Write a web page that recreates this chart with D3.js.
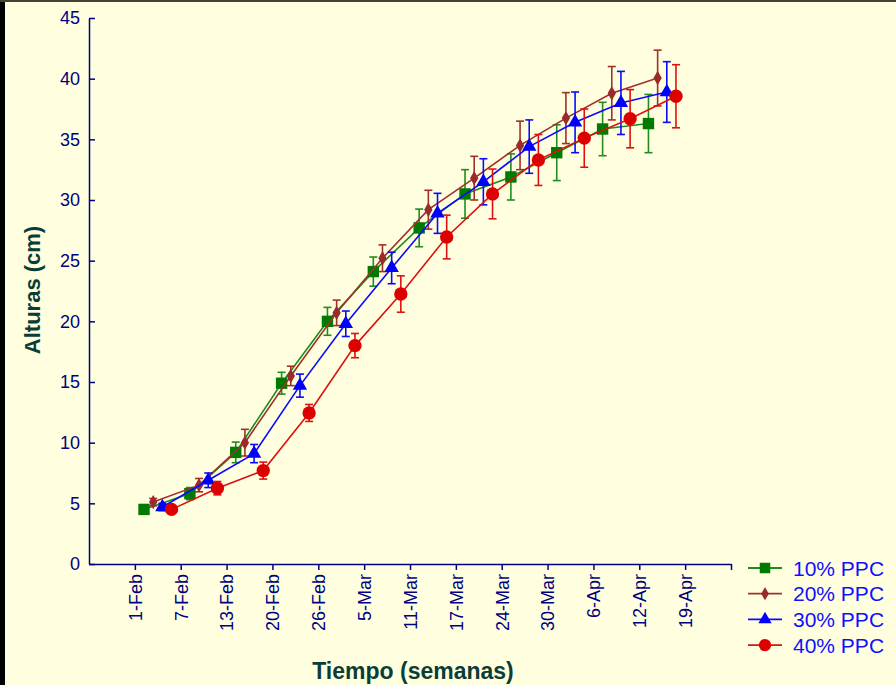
<!DOCTYPE html>
<html>
<head>
<meta charset="utf-8">
<script src="https://cdn.jsdelivr.net/npm/d3@7"></script>
<style>
  html, body { margin: 0; padding: 0; background: #FFFFE0; }
  svg { display: block; }
</style>
</head>
<body>
<script>
// Fechas de muestreo (eje X)
const fechas = ["1-Feb", "7-Feb", "13-Feb", "20-Feb", "26-Feb", "5-Mar", "11-Mar",
                "17-Mar", "24-Mar", "30-Mar", "6-Apr", "12-Apr", "19-Apr"];
const yTicks = [0, 5, 10, 15, 20, 25, 30, 35, 40, 45];

// Altura media (cm) por tratamiento
const ppc10 = [4.5, 5.8, 9.2, 14.9, 20.0, 24.1, 27.7, 30.5, 31.9, 33.9, 35.85, 36.3];
const ppc20 = [5.1, 6.5, 10.0, 15.5, 20.7, 25.2, 29.2, 31.8, 34.5, 36.75, 38.8, 40.05];
const ppc30 = [4.7, 6.9, 9.1, 14.7, 19.8, 24.4, 28.9, 31.5, 34.4, 36.4, 38.0, 38.9];
const ppc40 = [4.5, 6.25, 7.7, 12.45, 18.0, 22.25, 26.95, 30.5, 33.3, 35.1, 36.7, 38.55];

// Error (± cm)
const err10 = [0.3, 0.5, 0.85, 0.9, 1.15, 1.2, 1.55, 2.0, 1.9, 2.3, 2.2, 2.4];
const err20 = [0.3, 0.55, 1.1, 0.8, 1.05, 1.1, 1.6, 1.8, 2.0, 2.1, 2.2, 2.3];
const err30 = [0.3, 0.6, 0.75, 0.95, 1.05, 1.3, 1.65, 1.9, 2.2, 2.5, 2.6, 2.5];
const err40 = [0.3, 0.55, 0.7, 0.7, 1.0, 1.5, 1.8, 2.05, 2.1, 2.4, 2.4, 2.6];

const seriesNames = ["10% PPC", "20% PPC", "30% PPC", "40% PPC"];

const W = 896, H = 685;
const FONT = "Arial, 'Liberation Sans', sans-serif";
const svg = d3.select("body").append("svg").attr("width", W).attr("height", H);

// fondo y marco
svg.append("rect").attr("width", W).attr("height", H).attr("fill", "#FFFFE0");
svg.append("rect").attr("x", 0).attr("y", 0).attr("width", 5).attr("height", H).attr("fill", "#000");
svg.append("rect").attr("x", 0).attr("y", 0).attr("width", W).attr("height", 2).attr("fill", "#444433");

const x = d3.scaleLinear().domain([0, fechas.length + 1]).range([89, 731]);
const y = d3.scaleLinear().domain([0, 45]).range([564, 18]);

const axisColor = "#000080";

// Eje Y
const yAxis = svg.append("g").attr("transform", `translate(${x(0)},0)`)
  .call(d3.axisLeft(y).tickValues(yTicks).tickSizeInner(-6).tickSizeOuter(0).tickPadding(9));
yAxis.select(".domain").attr("stroke", axisColor).attr("stroke-width", 1.5);
yAxis.selectAll(".tick line").attr("stroke", axisColor).attr("stroke-width", 1.5);
yAxis.selectAll(".tick text").attr("fill", axisColor)
  .style("font-family", FONT).style("font-size", "18px");

// Eje X
const xTickVals = d3.range(1, fechas.length + 2);
const xAxis = svg.append("g").attr("transform", `translate(0,${y(0)})`)
  .call(d3.axisBottom(x).tickValues(xTickVals).tickSizeInner(6).tickSizeOuter(0)
    .tickFormat(d => fechas[d - 1] || ""));
xAxis.select(".domain").attr("stroke", axisColor).attr("stroke-width", 1.5);
xAxis.selectAll(".tick line").attr("stroke", axisColor).attr("stroke-width", 1.5);
xAxis.selectAll(".tick text").attr("fill", axisColor)
  .style("font-family", FONT).style("font-size", "18px")
  .attr("text-anchor", "end").attr("dy", "0.35em")
  .attr("transform", "rotate(-90)").attr("x", -10).attr("y", 0);

// Títulos de ejes
const titleColor = "#0B3D38";
svg.append("text").attr("x", 413).attr("y", 679).attr("text-anchor", "middle")
  .attr("fill", titleColor).style("font-family", FONT)
  .style("font-size", "23px").style("font-weight", "bold").text("Tiempo (semanas)");
svg.append("text").attr("transform", "translate(40,290) rotate(-90)").attr("text-anchor", "middle")
  .attr("fill", titleColor).style("font-family", FONT)
  .style("font-size", "22px").style("font-weight", "bold").text("Alturas (cm)");

// Series
const series = [
  { name: seriesNames[0], vals: ppc10, errs: err10, line: "#1E8C1E", fill: "#007A00", shape: d3.symbolSquare, size: 130 },
  { name: seriesNames[1], vals: ppc20, errs: err20, line: "#A0302A", fill: "#9B2A2A", shape: d3.symbolDiamond, size: 60 },
  { name: seriesNames[2], vals: ppc30, errs: err30, line: "#0A0AFF", fill: "#0000FF", shape: d3.symbolTriangle, size: 90 },
  { name: seriesNames[3], vals: ppc40, errs: err40, line: "#DD1111", fill: "#DD0000", shape: d3.symbolCircle, size: 140 }
];

series.forEach((s, k) => {
  const off = 0.2 * (k + 1);
  const pts = s.vals.map((v, i) => ({ xv: i + 1 + off, v, e: s.errs[i] }));
  const g = svg.append("g");
  g.append("path").datum(pts)
    .attr("fill", "none").attr("stroke", s.line).attr("stroke-width", 1.6)
    .attr("d", d3.line().x(d => x(d.xv)).y(d => y(d.v)));
  const eb = g.selectAll(".eb").data(pts).enter().append("g")
    .attr("stroke", s.line).attr("stroke-width", 1.6);
  eb.append("line").attr("x1", d => x(d.xv)).attr("x2", d => x(d.xv))
    .attr("y1", d => y(d.v - d.e)).attr("y2", d => y(d.v + d.e));
  eb.append("line").attr("x1", d => x(d.xv) - 4).attr("x2", d => x(d.xv) + 4)
    .attr("y1", d => y(d.v + d.e)).attr("y2", d => y(d.v + d.e));
  eb.append("line").attr("x1", d => x(d.xv) - 4).attr("x2", d => x(d.xv) + 4)
    .attr("y1", d => y(d.v - d.e)).attr("y2", d => y(d.v - d.e));
  g.selectAll(".pt").data(pts).enter().append("path")
    .attr("transform", d => `translate(${x(d.xv)},${y(d.v)})`)
    .attr("d", d3.symbol().type(s.shape).size(s.size))
    .attr("fill", s.fill);
});

// Leyenda
const leg = svg.append("g").attr("transform", "translate(748,568)");
series.forEach((s, k) => {
  const r = leg.append("g").attr("transform", `translate(0,${k * 25.7})`);
  r.append("line").attr("x1", 0).attr("x2", 34).attr("stroke", s.line).attr("stroke-width", 1.8);
  r.append("path").attr("transform", "translate(17,0)")
    .attr("d", d3.symbol().type(s.shape).size(s.size * 0.85)).attr("fill", s.fill);
  r.append("text").attr("x", 45).attr("dy", "0.36em").attr("fill", "#1010FF")
    .style("font-family", FONT).style("font-size", "21px")
    .text(s.name);
});
</script>
</body>
</html>
